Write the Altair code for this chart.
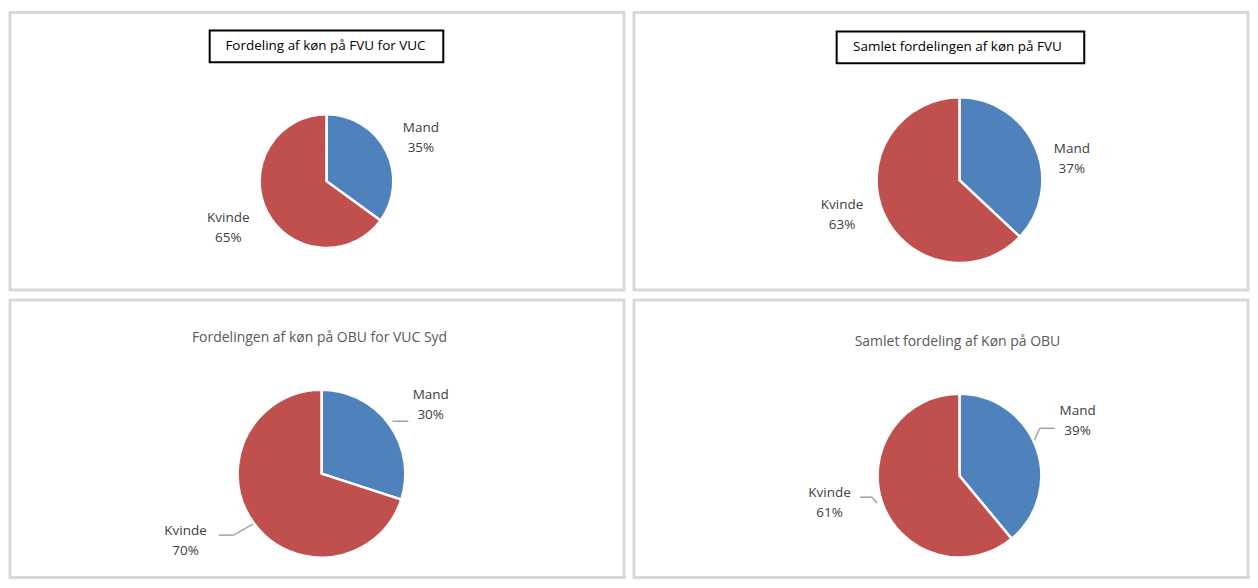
import altair as alt
import pandas as pd

categories = ["Mand", "Kvinde"]
titles = [
    "Fordeling af køn på FVU for VUC",
    "Samlet fordelingen af køn på FVU",
    "Fordelingen af køn på OBU for VUC Syd",
    "Samlet fordeling af Køn på OBU",
]
values_fvu_vuc = [35, 65]
values_fvu_total = [37, 63]
values_obu_vuc = [30, 70]
values_obu_total = [39, 61]

BLUE = "#4f81bd"
RED = "#c0504d"
FONT = "Open Sans"


def make_df(vals):
    return pd.DataFrame({
        "cat": categories,
        "value": vals,
        "ord": list(range(len(categories))),
        "label": [f"{c}\n{v}%" for c, v in zip(categories, vals)],
    })


def panel(title, vals, cx, cy, r, lab, tx, ty, box=None, tcolor="#000000", tsize=13.5, leaders=()):
    df = make_df(vals)
    base = alt.Chart(df)
    theta = alt.Theta("value:Q", stack=True)
    arc = base.mark_arc(radius=r, stroke="white", strokeWidth=2.5).encode(
        theta=theta,
        color=alt.Color("cat:N", scale=alt.Scale(domain=categories, range=[BLUE, RED]), legend=None),
        order=alt.Order("ord:Q"),
        x=alt.value(cx),
        y=alt.value(cy),
    )
    label_layers = []
    for cat, (lr, ddx, ddy) in zip(categories, lab):
        label_layers.append(
            base.mark_text(
                radius=lr, dx=ddx, dy=ddy, fontSize=13.5, font=FONT, color="#404040",
                lineBreak="\n", lineHeight=20, align="center", baseline="middle",
            ).encode(
                theta=theta,
                order=alt.Order("ord:Q"),
                text=alt.condition(f"datum.cat == '{cat}'", "label:N", alt.value("")),
                x=alt.value(cx),
                y=alt.value(cy),
            )
        )
    tdata = alt.Data(values=[{"t": title}])
    layers = []
    if box is not None:
        bx1, bx2, by1, by2 = box
        layers.append(
            alt.Chart(tdata).mark_rect(fill="white", stroke="black", strokeWidth=2).encode(
                x=alt.value(bx1), x2=alt.value(bx2), y=alt.value(by1), y2=alt.value(by2)
            )
        )
    layers.append(
        alt.Chart(tdata).mark_text(fontSize=tsize, font=FONT, color=tcolor, align="center", baseline="middle").encode(
            text="t:N", x=alt.value(tx), y=alt.value(ty)
        )
    )
    for (x1, y1, x2, y2) in leaders:
        layers.append(
            alt.Chart(tdata).mark_rule(color="#a6a6a6", strokeWidth=1.6).encode(
                x=alt.value(x1), y=alt.value(y1), x2=alt.value(x2), y2=alt.value(y2)
            )
        )
    layers += [arc] + label_layers
    return alt.layer(*layers).properties(width=615, height=278)


p1 = panel(titles[0], values_fvu_vuc, 317, 169, 67,
           [(105, 1, -6), (107, -3, -12)], 316, 34, box=(200, 434, 18, 50))
p2 = panel(titles[1], values_fvu_total, 326, 168, 83,
           [(115, 7, 14), (126, -2, -25)], 324, 35, box=(203, 451, 19, 51))
p3 = panel(titles[2], values_obu_vuc, 312, 174, 84,
           [(129, 5, -3), (151, -14, -31)], 310, 38, tcolor="#595959", tsize=14,
           leaders=[(383, 121.5, 399, 121.5), (209, 235.5, 224, 235.5), (224, 235.5, 245, 223.5)])
p4 = panel(titles[3], values_obu_total, 326, 176, 82,
           [(130, -4, -21), (133, -5, -28)], 324, 42, tcolor="#595959", tsize=14,
           leaders=[(400.5, 141.5, 406.5, 128.5), (406.5, 128.5, 421.5, 128.5),
                    (226.5, 197.5, 238.5, 197.5), (238.5, 197.5, 243.5, 203.5)])

chart = alt.vconcat(
    alt.hconcat(p1, p2, spacing=6),
    alt.hconcat(p3, p4, spacing=6),
    spacing=6,
).configure_view(stroke="#d9d9d9", strokeWidth=3).properties(
    padding={"left": 0, "top": 2, "right": 0, "bottom": 0}
)

chart.save("out.html", embed_options={"renderer": "svg", "actions": False})
